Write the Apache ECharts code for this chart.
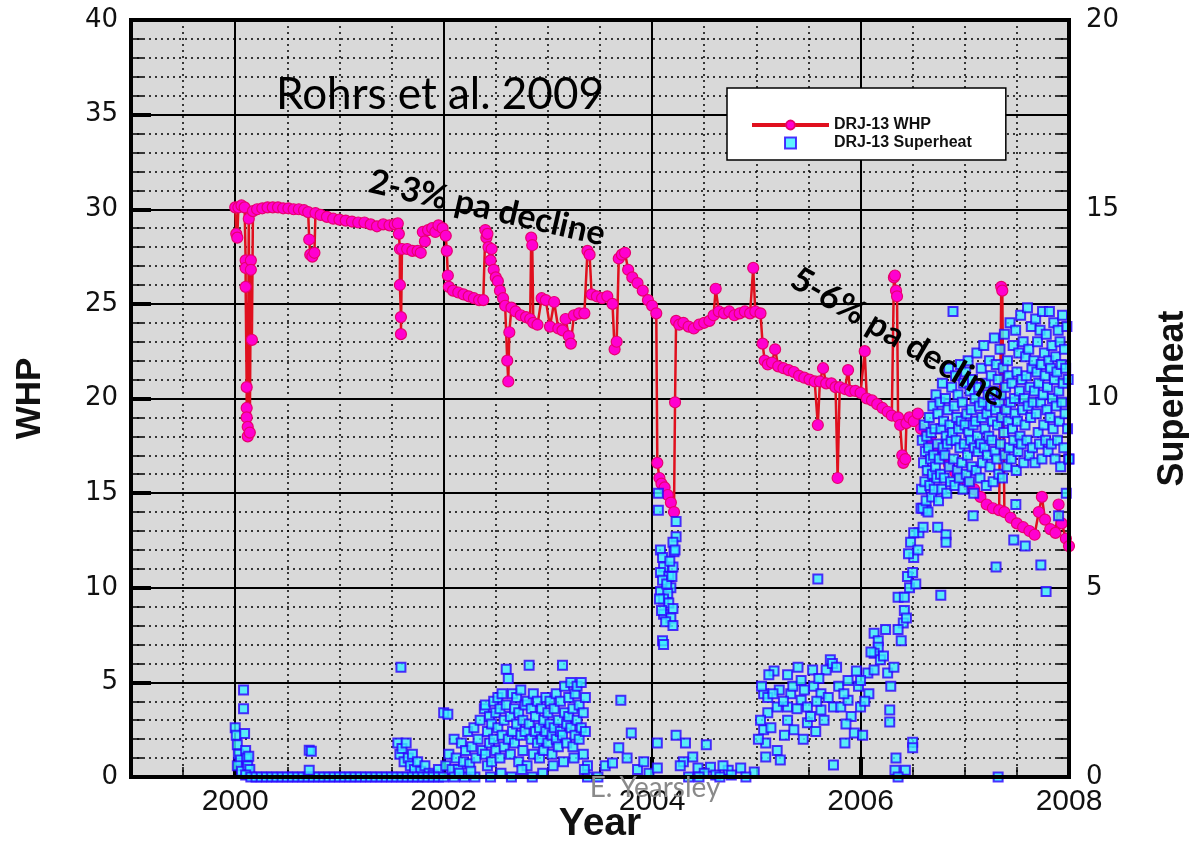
<!DOCTYPE html>
<html><head><meta charset="utf-8">
<script src="https://cdn.jsdelivr.net/npm/echarts@6/dist/echarts.min.js"></script>
<style>html,body{margin:0;padding:0;background:#fff}#c{width:1189px;height:843px}</style>
</head><body><div id="c"></div>
<script>
const xTickLabels = [2000, 2002, 2004, 2006, 2008];
const whpPoints = [[2000.00,30.1],[2000.01,28.7],[2000.02,28.5],[2000.03,30.1],[2000.06,30.2],[2000.09,30.1],[2000.10,27.3],[2000.10,26.9],[2000.10,25.9],[2000.11,20.6],[2000.11,19.5],[2000.11,19.0],[2000.12,18.5],[2000.12,18.0],[2000.13,29.5],[2000.14,18.2],[2000.15,27.3],[2000.15,26.8],[2000.16,23.1],[2000.17,29.9],[2000.21,30.0],[2000.26,30.05],[2000.31,30.1],[2000.36,30.1],[2000.41,30.1],[2000.46,30.05],[2000.51,30.05],[2000.56,30.0],[2000.61,30.0],[2000.66,29.95],[2000.70,29.85],[2000.71,28.4],[2000.72,27.6],[2000.74,27.5],[2000.76,27.7],[2000.77,29.8],[2000.82,29.7],[2000.88,29.6],[2000.94,29.5],[2001.00,29.45],[2001.06,29.4],[2001.12,29.35],[2001.18,29.3],[2001.24,29.3],[2001.30,29.2],[2001.36,29.1],[2001.42,29.2],[2001.48,29.15],[2001.53,29.2],[2001.56,29.25],[2001.57,28.7],[2001.58,27.9],[2001.58,26.0],[2001.59,24.3],[2001.59,23.4],[2001.60,27.9],[2001.65,27.9],[2001.70,27.8],[2001.75,27.8],[2001.78,27.7],[2001.80,28.8],[2001.82,28.3],[2001.85,28.9],[2001.89,29.0],[2001.92,28.8],[2001.95,29.15],[2001.99,29.0],[2002.02,28.6],[2002.03,27.8],[2002.04,26.5],[2002.05,25.9],[2002.09,25.7],[2002.14,25.6],[2002.19,25.5],[2002.24,25.4],[2002.29,25.3],[2002.34,25.2],[2002.38,25.2],[2002.40,28.9],[2002.41,28.5],[2002.42,28.7],[2002.43,28.0],[2002.45,27.3],[2002.46,27.9],[2002.48,26.8],[2002.50,26.4],[2002.52,26.2],[2002.54,25.7],[2002.57,25.3],[2002.59,24.9],[2002.61,22.0],[2002.62,20.9],[2002.63,23.5],[2002.65,24.8],[2002.69,24.6],[2002.74,24.4],[2002.79,24.3],[2002.83,24.2],[2002.84,28.5],[2002.85,28.1],[2002.86,24.0],[2002.90,23.9],[2002.94,25.3],[2002.98,25.2],[2003.02,23.8],[2003.06,25.1],[2003.10,23.7],[2003.14,23.6],[2003.17,24.2],[2003.20,23.3],[2003.22,22.9],[2003.25,24.4],[2003.30,24.5],[2003.35,24.5],[2003.38,27.8],[2003.40,27.6],[2003.42,25.5],[2003.47,25.4],[2003.52,25.3],[2003.57,25.4],[2003.62,25.0],[2003.64,22.6],[2003.66,23.0],[2003.68,27.4],[2003.71,27.6],[2003.74,27.7],[2003.77,26.8],[2003.81,26.4],[2003.86,26.1],[2003.91,25.7],[2003.96,25.2],[2004.00,24.9],[2004.04,24.5],[2004.05,16.6],[2004.07,15.8],[2004.09,15.5],[2004.12,15.3],[2004.15,14.9],[2004.18,14.5],[2004.21,14.0],[2004.22,19.8],[2004.23,24.1],[2004.26,23.9],[2004.30,24.0],[2004.35,23.8],[2004.40,23.7],[2004.45,23.9],[2004.50,24.0],[2004.55,24.1],[2004.59,24.4],[2004.61,25.8],[2004.64,24.6],[2004.69,24.5],[2004.74,24.6],[2004.79,24.4],[2004.84,24.5],[2004.89,24.6],[2004.94,24.5],[2004.97,26.9],[2004.99,24.6],[2005.04,24.5],[2005.06,22.9],[2005.08,22.0],[2005.11,21.8],[2005.15,21.9],[2005.18,22.6],[2005.21,21.7],[2005.26,21.6],[2005.31,21.5],[2005.36,21.4],[2005.41,21.2],[2005.46,21.1],[2005.51,21.0],[2005.56,20.9],[2005.59,18.6],[2005.61,20.9],[2005.64,21.6],[2005.67,20.8],[2005.72,20.8],[2005.76,20.6],[2005.78,15.8],[2005.80,20.6],[2005.85,20.5],[2005.88,21.5],[2005.90,20.4],[2005.95,20.4],[2006.00,20.3],[2006.04,22.5],[2006.06,20.0],[2006.11,19.9],[2006.16,19.7],[2006.21,19.5],[2006.26,19.3],[2006.30,19.1],[2006.32,26.4],[2006.33,26.5],[2006.34,25.7],[2006.35,25.4],[2006.36,19.0],[2006.38,18.6],[2006.40,17.0],[2006.41,16.6],[2006.43,16.8],[2006.44,18.7],[2006.47,19.0],[2006.51,18.8],[2006.55,19.2],[2006.58,18.4],[2006.63,18.0],[2006.68,17.7],[2006.73,17.3],[2006.79,17.0],[2006.85,16.5],[2006.91,16.1],[2006.97,15.8],[2007.03,15.5],[2007.09,15.2],[2007.15,14.8],[2007.21,14.4],[2007.27,14.2],[2007.33,14.1],[2007.35,25.9],[2007.36,25.7],[2007.38,14.0],[2007.44,13.7],[2007.50,13.4],[2007.56,13.2],[2007.62,13.0],[2007.67,12.8],[2007.71,14.0],[2007.74,14.8],[2007.77,13.6],[2007.82,13.1],[2007.87,12.9],[2007.90,14.4],[2007.93,13.4],[2007.97,12.6],[2008.00,12.2]];
const superheatPoints = [
[2000.00,1.3],[2000.01,1.1],[2000.02,0.85],[2000.03,0.6],[2000.05,0.45],[2000.02,0.3],[2000.06,0.15],[2000.08,2.3],[2000.08,1.8],[2000.09,1.15],[2000.10,0.7],[2000.11,0.5],[2000.12,0.3],[2000.13,0.55],[2000.14,0.2],[2000.10,0.05],
[2000.15,0],[2000.20,0],[2000.25,0],[2000.30,0],[2000.35,0],[2000.40,0],[2000.45,0],[2000.50,0],[2000.55,0],[2000.60,0],[2000.65,0],[2000.70,0],[2000.75,0],[2000.80,0],[2000.85,0],[2000.90,0],[2000.95,0],[2001.00,0],[2001.05,0],[2001.10,0],[2001.15,0],[2001.20,0],[2001.25,0],[2001.30,0],[2001.35,0],[2001.40,0],[2001.45,0],[2001.50,0],[2001.55,0],[2000.71,0.71],[2000.73,0.68],[2000.71,0.18],
[2001.59,2.9],[2001.56,0.9],[2001.58,0.6],[2001.60,0.75],[2001.62,0.4],[2001.64,0.9],[2001.66,0.5],[2001.68,0.3],[2001.70,0.6],[2001.72,0.2],[2001.75,0.4],[2001.78,0.15],[2001.82,0.3],[2001.86,0.1],[2001.90,0.05],[2001.95,0.2],[2001.60,0],[2001.65,0],[2001.70,0],[2001.75,0],[2001.80,0],[2001.85,0],[2001.90,0],[2001.95,0],
[2002.00,1.7],[2002.04,1.66],[2002.00,0],[2002.02,0.3],[2002.05,0.6],[2002.08,0.2],[2002.10,1.0],[2002.12,0.5],[2002.14,0.2],[2002.17,0.9],[2002.19,0.4],[2002.21,0.7],[2002.23,1.2],[2002.25,0.35],[2002.27,0.8],[2002.29,1.3],[2002.31,0.5],[2002.33,1.0],[2002.35,1.5],[2002.37,0.7],[2002.39,1.8],[2002.10,0],[2002.20,0],[2002.30,0],[2002.15,0.1],[2002.26,0.15],
[2002.40,1.9],[2002.40,0.6],[2002.42,1.2],[2002.42,0.3],[2002.44,1.6],[2002.44,0.9],[2002.46,0.4],[2002.46,1.4],[2002.48,2.0],[2002.48,1.0],[2002.50,0.7],[2002.50,1.7],[2002.52,1.3],[2002.52,2.1],[2002.54,0.5],[2002.54,1.8],[2002.56,1.1],[2002.56,2.2],[2002.58,0.8],[2002.58,1.5],[2002.60,1.9],[2002.60,2.85],[2002.62,1.0],[2002.62,2.6],[2002.64,1.6],[2002.64,0.6],[2002.66,2.2],[2002.66,1.2],[2002.68,0.9],[2002.68,1.8],[2002.70,1.4],[2002.70,2.1],[2002.72,0.4],[2002.72,1.7],[2002.74,1.1],[2002.74,2.3],[2002.76,0.7],[2002.76,1.5],[2002.78,1.9],[2002.78,1.2],[2002.80,0.3],[2002.80,2.0],[2002.82,1.4],[2002.82,2.95],[2002.84,1.0],[2002.84,1.8],[2002.86,0.6],[2002.86,2.2],[2002.88,1.6],[2002.88,1.2],[2002.90,0.9],[2002.90,2.0],[2002.92,1.3],[2002.92,0.5],[2002.94,1.8],[2002.94,1.0],[2002.96,0.7],[2002.96,1.5],[2002.98,2.1],[2002.98,1.2],[2003.00,0.9],[2003.00,1.7],[2003.02,1.4],[2003.02,2.0],[2003.04,0.6],[2003.04,1.1],[2003.06,1.8],[2003.06,1.3],[2003.08,1.0],[2003.08,2.2],[2003.10,1.5],[2003.10,0.8],[2003.12,2.0],[2003.12,1.2],[2003.14,1.1],[2003.14,2.95],[2003.16,1.7],[2003.16,2.4],[2003.18,0.9],[2003.18,1.4],[2003.20,2.1],[2003.20,1.6],[2003.22,1.3],[2003.22,2.5],[2003.24,1.8],[2003.24,0.8],[2003.26,1.1],[2003.26,2.2],[2003.28,2.4],[2003.28,1.5],[2003.30,1.0],[2003.30,1.9],[2003.32,2.5],[2003.32,1.3],[2003.34,1.7],[2003.34,0.6],[2003.36,2.1],[2003.36,1.2],[2003.38,0.3],[2003.38,0],[2002.45,0],[2002.55,0.1],[2002.65,0],[2002.75,0.2],[2002.85,0],[2002.95,0.1],[2003.05,0.3],[2003.15,0.4],[2003.25,0.5],[2003.35,0.2],
[2003.48,0],[2003.55,0.3],[2003.62,0.37],[2003.68,0.77],[2003.70,2.03],[2003.76,0.5],[2003.80,1.16],[2003.86,0.2],[2003.92,0.4],[2003.97,0.1],
[2004.06,7.5],[2004.06,7.05],[2004.23,6.75],[2004.23,6.35],[2004.20,6.2],[2004.08,6.0],[2004.10,5.8],[2004.21,5.95],[2004.11,5.55],[2004.20,5.55],[2004.08,5.4],[2004.16,5.3],[2004.10,5.2],[2004.18,5.0],[2004.08,4.9],[2004.15,4.85],[2004.11,4.7],[2004.16,4.6],[2004.07,4.7],[2004.20,4.45],[2004.11,4.3],[2004.18,4.2],[2004.13,4.1],[2004.20,4.0],[2004.10,3.6],[2004.11,3.5],[2004.09,4.4],[2004.14,5.1],[2004.17,5.7],[2004.22,6.0],[2004.19,5.3],
[2004.05,0.9],[2004.05,0.24],[2004.23,1.1],[2004.32,0.9],[2004.52,0.85],[2004.39,0.53],[2004.30,0.4],[2004.44,0.24],[2004.56,0.26],[2004.50,0.1],[2004.73,0.18],[2004.85,0.24],[2004.98,0.13],[2004.61,0.05],[2004.76,0.05],[2004.35,0],[2004.45,0],[2004.65,0],[2004.90,0],[2004.27,0.3],[2004.68,0.3],
[2005.07,2.2],[2005.17,2.8],[2005.12,2.7],[2005.30,2.7],[2005.11,2.1],[2005.11,1.7],[2005.07,1.25],[2005.09,0.9],[2005.20,0.7],[2005.23,0.45],[2005.09,0.53],[2005.20,1.85],[2005.22,2.3],[2005.33,2.2],[2005.30,1.85],[2005.30,1.5],[2005.36,1.25],[2005.35,2.4],[2005.43,2.55],[2005.43,2.03],[2005.49,1.85],[2005.49,1.43],[2005.54,2.83],[2005.55,2.4],[2005.62,2.2],[2005.62,1.77],[2005.67,2.83],[2005.71,3.1],[2005.73,3.0],[2005.65,1.5],[2005.74,1.85],[2005.79,2.4],[2005.81,1.85],[2005.88,2.03],[2005.88,2.55],[2005.91,1.6],[2005.94,1.16],[2005.98,2.4],[2006.00,1.85],[2006.07,2.75],[2006.08,2.2],[2006.02,1.1],[2005.74,0.32],[2005.59,5.23],[2006.00,2.55],[2005.04,1.5],[2005.05,2.4],[2005.14,1.3],[2005.16,2.2],[2005.26,2.0],[2005.27,1.1],[2005.39,1.8],[2005.40,2.9],[2005.46,2.3],[2005.52,1.6],[2005.58,2.0],[2005.60,2.6],[2005.69,2.1],[2005.77,2.9],[2005.84,2.2],[2005.86,1.4],[2005.96,2.8],[2006.04,2.0],[2005.02,1.0],[2005.45,1.0],[2005.57,1.2],[2005.85,0.9],
[2006.13,3.8],[2006.17,3.6],[2006.17,3.43],[2006.13,3.27],[2006.19,3.1],[2006.13,2.83],[2006.26,2.75],[2006.29,2.4],[2006.32,2.9],[2006.28,1.45],[2006.28,1.77],[2006.34,0.5],[2006.33,0.18],[2006.39,3.6],[2006.41,4.07],[2006.42,4.4],[2006.36,4.75],[2006.42,4.75],[2006.47,5.0],[2006.45,5.3],[2006.50,5.4],[2006.51,5.8],[2006.48,6.2],[2006.55,6.0],[2006.56,6.45],[2006.51,6.45],[2006.60,6.6],[2006.63,7.05],[2006.58,7.1],[2006.70,8.0],[2006.77,4.8],[2006.50,0.92],[2006.50,0.77],[2006.43,0.18],[2006.10,3.3],[2006.22,3.2],[2006.24,3.9],[2006.36,3.9],[2006.44,4.2],[2006.46,5.9],[2006.53,5.1],[2006.36,0],[2006.74,6.6],[2006.82,6.4],[2006.82,6.2],
[2006.585,7.6],[2006.592,8.9],[2006.598,7.1],[2006.604,8.3],[2006.611,9.3],[2006.617,7.8],[2006.622,8.6],[2006.629,7.3],[2006.635,9.0],[2006.640,8.1],[2006.647,7.0],[2006.653,8.7],[2006.659,9.5],[2006.664,7.7],[2006.671,8.4],[2006.677,9.1],[2006.683,7.4],[2006.689,8.0],[2006.694,9.8],[2006.701,8.5],[2006.707,7.6],[2006.713,9.2],[2006.718,8.2],[2006.724,10.1],[2006.731,7.9],[2006.737,8.8],[2006.742,9.6],[2006.748,7.3],[2006.755,8.4],[2006.761,9.9],[2006.767,8.0],[2006.772,9.2],[2006.779,7.6],[2006.785,10.4],[2006.791,8.7],[2006.796,9.4],[2006.803,7.9],[2006.809,8.5],[2006.815,10.0],[2006.821,9.0],[2006.827,7.5],[2006.833,8.8],[2006.839,9.7],[2006.845,10.8],[2006.851,8.2],[2006.857,9.3],[2006.863,7.8],[2006.869,8.9],[2006.875,10.3],[2006.881,9.1],[2006.887,12.3],[2006.893,8.4],[2006.899,9.8],[2006.905,7.7],[2006.911,10.6],[2006.917,8.9],[2006.923,9.5],[2006.929,8.1],[2006.935,10.1],[2006.941,9.2],[2006.947,7.9],[2006.953,8.7],[2006.959,10.9],[2006.965,9.4],[2006.971,8.3],[2006.977,9.9],[2006.983,7.6],[2006.989,10.4],[2006.995,8.8],
[2007.002,9.3],[2007.008,10.7],[2007.014,8.0],[2007.020,9.6],[2007.026,8.5],[2007.032,11.0],[2007.038,9.1],[2007.044,7.8],[2007.050,10.2],[2007.056,8.9],[2007.062,9.7],[2007.068,8.2],[2007.074,10.5],[2007.080,9.3],[2007.086,7.5],[2007.092,8.7],[2007.098,10.0],[2007.104,9.4],[2007.110,8.1],[2007.116,11.2],[2007.122,9.0],[2007.128,8.6],[2007.134,10.3],[2007.140,9.8],[2007.146,7.9],[2007.152,8.8],[2007.158,10.8],[2007.164,9.5],[2007.170,8.3],[2007.176,9.9],[2007.182,11.4],[2007.188,8.7],[2007.194,9.2],[2007.200,10.4],[2007.206,7.7],[2007.212,9.6],[2007.218,8.5],[2007.224,10.1],[2007.230,9.0],[2007.236,11.0],[2007.242,8.2],[2007.248,9.8],[2007.254,10.6],[2007.260,8.9],[2007.266,9.4],[2007.272,7.8],[2007.278,10.2],[2007.284,11.6],[2007.290,8.6],[2007.296,9.7],[2007.302,10.9],[2007.308,8.4],[2007.314,9.3],[2007.320,10.5],[2007.326,8.0],[2007.332,9.9],[2007.338,11.3],[2007.344,8.8],[2007.350,10.1],[2007.356,9.5],[2007.362,7.9],[2007.368,10.8],[2007.374,9.1],[2007.380,11.7],[2007.386,8.5],[2007.392,10.3],[2007.398,9.7],[2007.404,8.2],[2007.410,11.0],[2007.416,9.4],[2007.422,10.6],[2007.428,8.7],[2007.434,12.0],[2007.440,9.9],[2007.446,8.4],[2007.452,10.4],[2007.458,9.2],[2007.464,11.4],[2007.470,8.9],[2007.476,10.0],[2007.482,9.6],[2007.488,11.8],[2007.494,8.1],[2007.500,10.7],[2007.506,9.4],[2007.512,8.6],[2007.518,11.2],[2007.524,10.2],[2007.530,9.0],[2007.536,12.2],[2007.542,8.8],[2007.548,10.5],[2007.554,9.7],[2007.560,11.5],[2007.566,8.3],[2007.572,10.0],[2007.578,9.3],[2007.584,11.1],[2007.590,10.6],[2007.596,8.9],[2007.602,12.4],[2007.608,9.8],[2007.614,11.3],[2007.620,8.5],[2007.626,10.3],[2007.632,9.5],[2007.638,11.9],[2007.644,10.8],[2007.650,8.7],[2007.656,9.9],[2007.662,11.0],[2007.668,10.2],[2007.674,8.3],[2007.680,12.1],[2007.686,9.6],[2007.692,10.7],[2007.698,11.5],[2007.704,9.1],[2007.710,10.4],[2007.716,8.8],[2007.722,11.8],[2007.728,9.9],[2007.734,10.9],[2007.740,8.4],[2007.746,12.3],[2007.752,10.1],[2007.758,9.3],[2007.764,11.2],[2007.770,10.6],[2007.776,8.9],[2007.782,11.7],[2007.788,9.7],[2007.794,10.3],[2007.800,8.6],[2007.806,11.0],[2007.812,12.3],[2007.818,9.5],[2007.824,10.8],[2007.830,8.8],[2007.836,11.4],[2007.842,10.0],[2007.848,9.2],[2007.854,12.0],[2007.860,10.5],[2007.866,8.4],[2007.872,11.1],[2007.878,9.8],[2007.884,10.7],[2007.890,8.9],[2007.896,11.8],[2007.902,10.2],[2007.908,9.4],[2007.914,11.5],[2007.920,8.2],[2007.926,10.9],[2007.932,9.9],[2007.938,12.2],[2007.944,10.4],[2007.950,8.7],[2007.956,11.3],[2007.962,9.6],[2007.968,10.8],[2007.974,7.5],[2007.980,11.9],[2007.986,9.2],[2007.992,10.5],[2007.998,8.4],
[2007.30,5.55],[2007.73,5.6],[2007.78,4.9],[2007.47,6.26],[2007.49,7.2],[2007.58,6.1],[2007.08,6.9],[2007.32,0],[2007.90,6.9],[2008.00,8.4]
];

const chart = echarts.init(document.getElementById('c'), null, {renderer: 'canvas'});
const tickFont = 'DejaVu Sans';
const dotted = {color: '#000', width: 1.5, type: [2, 4]};
chart.setOption({
  animation: false,
  grid: {left: 131, right: 120, top: 20, bottom: 66, show: true, backgroundColor: '#d9d9d9', borderWidth: 0, containLabel: false, outerBoundsMode: 'none'},
  legend: {
    left: 727, top: 88, orient: 'vertical', selectedMode: false,
    backgroundColor: '#fff', borderColor: '#000', borderWidth: 1.5, borderRadius: 0,
    padding: [29, 34, 9, 23], itemWidth: 77, itemHeight: 11, itemGap: 2,
    lineStyle: {width: 4},
    textStyle: {fontFamily: 'Liberation Sans', fontWeight: 'bold', fontSize: 16, color: '#111'},
    data: [{name: 'DRJ-13 WHP'}, {name: 'DRJ-13 Superheat', icon: 'path://M0,0H10V10H0Z'}]
  },
  xAxis: [{
    type: 'value', min: 1999, max: 2008, interval: 0.5, position: 'bottom',
    axisLine: {show: false},
    axisTick: {show: true, inside: true, length: 10, lineStyle: {color: '#000', width: 1.5}},
    axisLabel: {formatter: v => xTickLabels.includes(v) ? String(v) : '', fontFamily: 'Liberation Sans', fontSize: 30, color: '#111', margin: 10},
    splitLine: {show: true, lineStyle: dotted},
    name: 'Year', nameLocation: 'middle', nameGap: 28, nameMoveOverlap: false,
    nameTextStyle: {fontFamily: 'Liberation Sans', fontWeight: 'bold', fontSize: 39, color: '#111', verticalAlign: 'top'}
  }, {
    type: 'value', min: 1999, max: 2008, interval: 1, position: 'bottom',
    axisLine: {show: false}, axisLabel: {show: false},
    axisTick: {show: true, inside: true, length: 20, lineStyle: {color: '#000', width: 4}, customValues: [2000, 2002, 2004, 2006]},
    splitLine: {show: true, lineStyle: {color: '#000', width: 2}}
  }],
  yAxis: [{
    type: 'value', min: 0, max: 40, interval: 5, position: 'left',
    axisLine: {show: false},
    axisTick: {show: true, inside: true, length: 20, lineStyle: {color: '#000', width: 4}},
    minorTick: {show: true, splitNumber: 5, length: 12, lineStyle: {color: '#000', width: 1.5}},
    splitLine: {show: true, lineStyle: {color: '#000', width: 2}},
    minorSplitLine: {show: true, lineStyle: dotted},
    axisLabel: {fontFamily: tickFont, fontSize: 26, color: '#111', margin: 13},
    name: 'WHP', nameLocation: 'middle', nameGap: 83,
    nameTextStyle: {fontFamily: 'Liberation Sans', fontWeight: 'bold', fontSize: 35, color: '#111'}
  }, {
    type: 'value', min: 0, max: 20, interval: 5, position: 'right',
    axisLine: {show: false},
    axisTick: {show: true, inside: true, length: 12, lineStyle: {color: '#000', width: 1.5}},
    minorTick: {show: true, splitNumber: 10, length: 12, lineStyle: {color: '#000', width: 1.5}},
    splitLine: {show: false},
    axisLabel: {fontFamily: tickFont, fontSize: 26, color: '#111', margin: 17},
    name: 'Superheat', nameLocation: 'middle', nameGap: 86,
    nameTextStyle: {fontFamily: 'Liberation Sans', fontWeight: 'bold', fontSize: 36, color: '#111'}
  }],
  series: [{
    type: 'line', name: 'DRJ-13 WHP', data: whpPoints, xAxisIndex: 0, yAxisIndex: 0,
    symbol: 'circle', symbolSize: 11, silent: true, z: 3,
    lineStyle: {color: '#e0101e', width: 2.5},
    itemStyle: {color: '#ff00d0', borderColor: '#e8006e', borderWidth: 1.2}
  }, {
    type: 'scatter', name: 'DRJ-13 Superheat', data: superheatPoints, xAxisIndex: 0, yAxisIndex: 1,
    symbol: 'rect', symbolSize: 9, silent: true, z: 4,
    itemStyle: {color: '#38f0ff', borderColor: '#2a00ff', borderWidth: 2}
  }],
  graphic: [
    {type: 'rect', shape: {x: 131, y: 20, width: 938, height: 757}, style: {fill: 'none', stroke: '#000', lineWidth: 4}, z: 100, silent: true},
    {type: 'text', x: 276, y: 95, z: 101, style: {text: 'Rohrs et al. 2009', font: '44px Lato', fill: '#000', align: 'left', verticalAlign: 'middle'}},
    {type: 'text', x: 487, y: 208, rotation: -0.225, z: 101, style: {text: '2-3% pa decline', font: 'bold 34px Lato', fill: '#000', align: 'center', verticalAlign: 'middle'}},
    {type: 'text', x: 898, y: 337, rotation: -0.53, z: 101, style: {text: '5-6% pa decline', font: 'bold 34px Lato', fill: '#000', align: 'center', verticalAlign: 'middle'}},
    {type: 'text', x: 655, y: 788, z: 101, style: {text: 'E. Yearsley', font: '28px Lato', fill: '#8a8a8a', align: 'center', verticalAlign: 'middle'}}
  ]
});
</script></body></html>
